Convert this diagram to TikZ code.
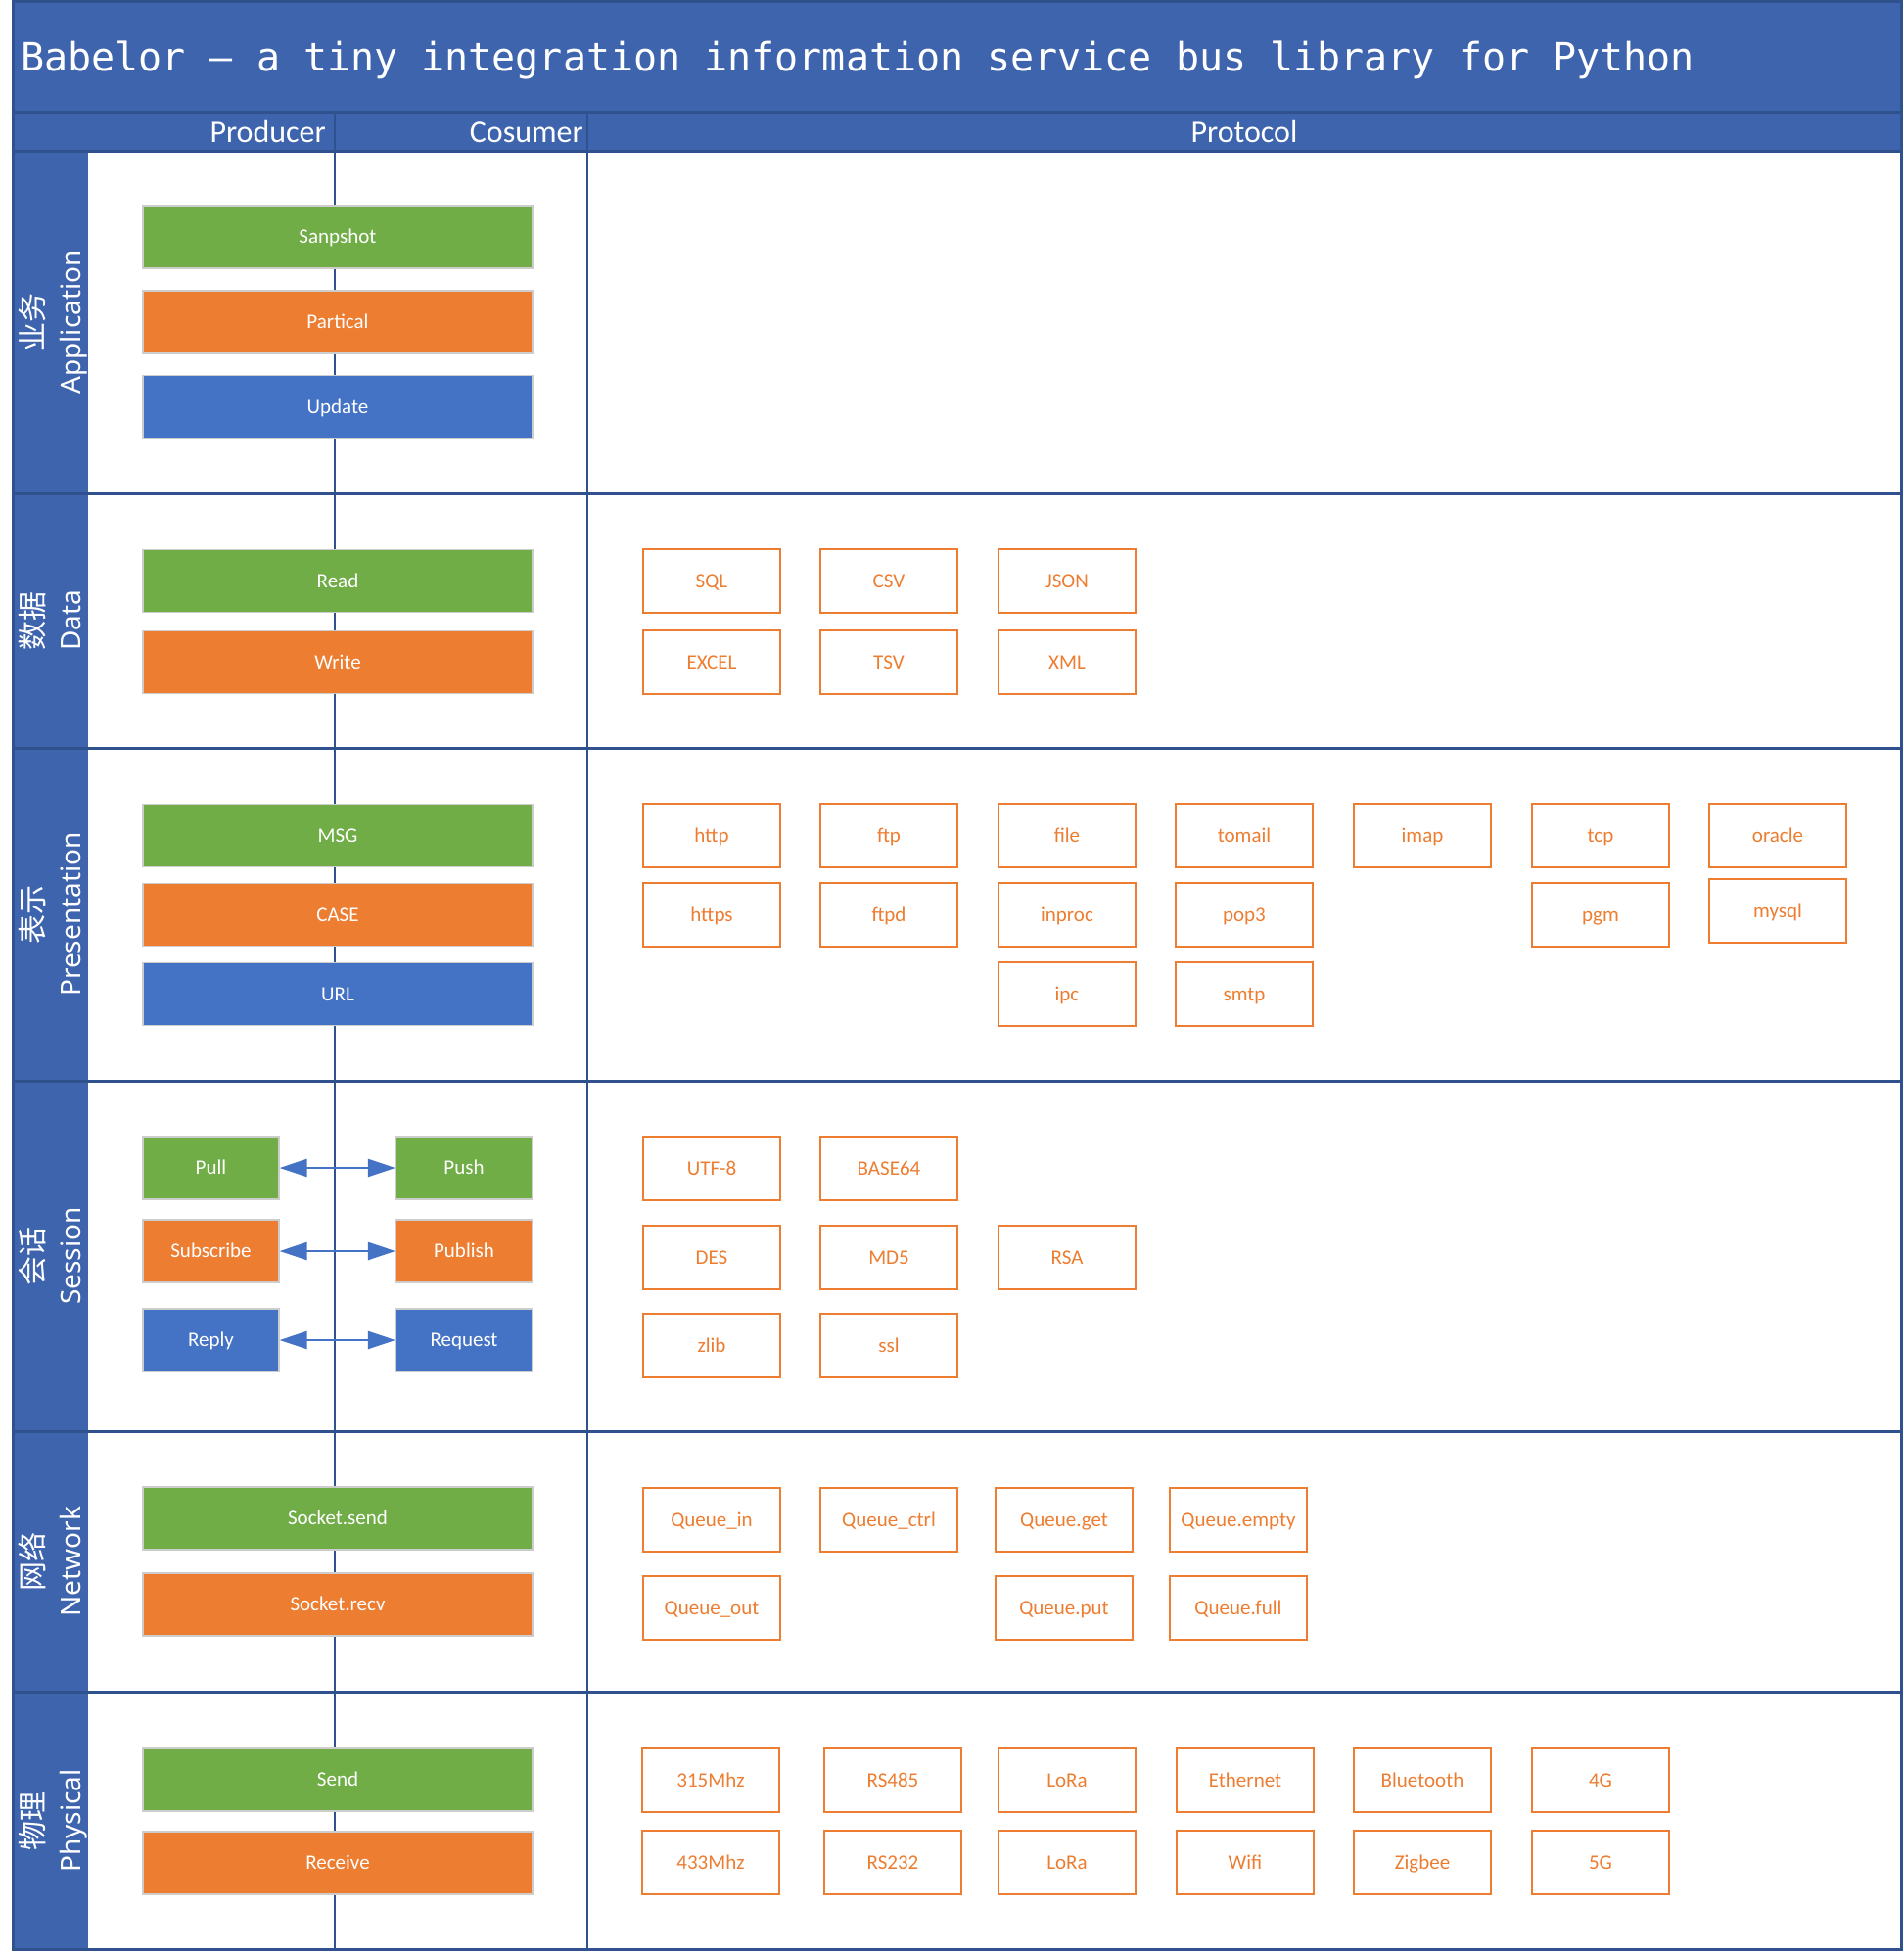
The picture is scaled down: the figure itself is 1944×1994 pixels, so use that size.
\documentclass[tikz,border=0pt]{standalone}
\usepackage{fontspec}
\setmainfont{Carlito}
\newfontfamily\titlefont{DejaVu Sans Mono}
\newfontfamily\cjkfont{Noto Sans CJK SC}
\newfontfamily\lblfont{Noto Sans}
\usetikzlibrary{arrows.meta}
\definecolor{bandblue}{RGB}{62,100,173}
\definecolor{linedark}{RGB}{47,82,143}
\definecolor{pgreen}{RGB}{112,173,71}
\definecolor{porange}{RGB}{237,125,49}
\definecolor{pblue}{RGB}{68,114,196}
\definecolor{boxedge}{RGB}{205,205,205}
\newcommand\protobox[4]{\node[pbox] (#1) at ({#2+70},{#3+32.5}) {#4};}
\begin{document}
\begin{tikzpicture}[x=1pt,y=-1pt,
  cbox/.style={draw=boxedge, line width=1.2pt, text=white, font=\fontsize{21}{25}\selectfont,
    minimum height=64pt, inner sep=0pt, text height=17.5pt, text depth=4pt},
  widebox/.style={cbox, minimum width=398pt},
  smallbox/.style={cbox, minimum width=139pt},
  gfill/.style={fill=pgreen}, ofill/.style={fill=porange}, bfill/.style={fill=pblue},
  pbox/.style={draw=porange, line width=2.6pt, fill=white, text=porange, font=\fontsize{21}{25}\selectfont,
    minimum width=140pt, minimum height=65pt, inner sep=0pt, text height=17.5pt, text depth=4pt},
  rowline/.style={draw=linedark, line width=3pt},
  divline/.style={draw=linedark, line width=2pt},
  biarrow/.style={draw=pblue, line width=2.5pt, {Triangle[length=28pt,width=18pt]}-{Triangle[length=28pt,width=18pt]}},
  cnlabel/.style={rotate=90, text=white, inner sep=0pt, font=\cjkfont\fontsize{30}{30}\selectfont, text height=26pt, text depth=4pt},
  enlabel/.style={rotate=90, text=white, inner sep=0pt, font=\lblfont\fontsize{28}{28}\selectfont, text height=20pt, text depth=7pt},
  headtext/.style={text=white, inner sep=0pt, font=\fontsize{32}{32}\selectfont}
]
\useasboundingbox (0,0) rectangle (1944,1994);
\fill[white] (0,0) rectangle (1944,1994);
% bands
\fill[bandblue] (13,1) rectangle (1942,154);
\fill[bandblue] (13,154) rectangle (90,1991);
% dividers
\draw[divline] (342,114) -- (342,1991);
\draw[divline] (600,114) -- (600,1991);
% row lines
\foreach \yy in {114,154,504,764,1104,1462,1728}{
  \draw[rowline] (13,\yy) -- (1942,\yy);
}
% outer frame
\draw[draw=linedark, line width=3pt] (13,1.5) rectangle (1942,1991);

% title and header
\node[anchor=base west, text=white, inner sep=0pt, font=\titlefont\fontsize{40}{40}\selectfont] (title) at (21,72)
  {Babelor – a tiny integration information service bus library for Python};
\node[headtext, anchor=base east] (hprod) at (333,145) {Producer};
\node[headtext, anchor=base east] (hcons) at (596,145) {Cosumer};
\node[headtext, anchor=base] (hprot) at (1271,145) {Protocol};

% lane labels
\node[cnlabel] (l1c) at (33,329) {业务};
\node[enlabel] (l1e) at (76,329) {Application};
\node[cnlabel] (l2c) at (33,634) {数据};
\node[enlabel] (l2e) at (76,634) {Data};
\node[cnlabel] (l3c) at (33,934) {表示};
\node[enlabel] (l3e) at (76,934) {Presentation};
\node[cnlabel] (l4c) at (33,1283) {会话};
\node[enlabel] (l4e) at (76,1283) {Session};
\node[cnlabel] (l5c) at (33,1595) {网络};
\node[enlabel] (l5e) at (76,1595) {Network};
\node[cnlabel] (l6c) at (33,1860) {物理};
\node[enlabel] (l6e) at (76,1860) {Physical};

% Application
\node[widebox, gfill] (snap) at (345,242) {Sanpshot};
\node[widebox, ofill] (part) at (345,329) {Partical};
\node[widebox, bfill] (upd) at (345,415.5) {Update};

% Data
\node[widebox, gfill] (read) at (345,593.5) {Read};
\node[widebox, ofill] (write) at (345,676.5) {Write};
\protobox{sql}{657}{561}{SQL}
\protobox{csv}{838}{561}{CSV}
\protobox{json}{1020}{561}{JSON}
\protobox{excel}{657}{644}{EXCEL}
\protobox{tsv}{838}{644}{TSV}
\protobox{xml}{1020}{644}{XML}

% Presentation
\node[widebox, gfill] (msg) at (345,853.5) {MSG};
\node[widebox, ofill] (case) at (345,934.5) {CASE};
\node[widebox, bfill] (url) at (345,1015.5) {URL};
\protobox{http}{657}{821}{http}
\protobox{ftp}{838}{821}{ftp}
\protobox{file}{1020}{821}{file}
\protobox{tomail}{1201}{821}{tomail}
\protobox{imap}{1383}{821}{imap}
\protobox{tcp}{1565}{821}{tcp}
\protobox{oracle}{1746}{821}{oracle}
\protobox{https}{657}{902}{https}
\protobox{ftpd}{838}{902}{ftpd}
\protobox{inproc}{1020}{902}{inproc}
\protobox{pop3}{1201}{902}{pop3}
\protobox{pgm}{1565}{902}{pgm}
\protobox{mysql}{1746}{898}{mysql}
\protobox{ipc}{1020}{983}{ipc}
\protobox{smtp}{1201}{983}{smtp}

% Session
\node[smallbox, gfill] (pull) at (215.5,1193) {Pull};
\node[smallbox, gfill] (push) at (474,1193) {Push};
\node[smallbox, ofill] (subs) at (215.5,1278) {Subscribe};
\node[smallbox, ofill] (publ) at (474,1278) {Publish};
\node[smallbox, bfill] (reply) at (215.5,1369) {Reply};
\node[smallbox, bfill] (req) at (474,1369) {Request};
\draw[biarrow] (pull) -- (push);
\draw[biarrow] (subs) -- (publ);
\draw[biarrow] (reply) -- (req);
\protobox{utf}{657}{1161}{UTF-8}
\protobox{base}{838}{1161}{BASE64}
\protobox{des}{657}{1252}{DES}
\protobox{md}{838}{1252}{MD5}
\protobox{rsa}{1020}{1252}{RSA}
\protobox{zlib}{657}{1342}{zlib}
\protobox{ssl}{838}{1342}{ssl}

% Network
\node[widebox, gfill] (ssend) at (345,1551) {Socket.send};
\node[widebox, ofill] (srecv) at (345,1639) {Socket.recv};
\protobox{qin}{657}{1520}{Queue\_in}
\protobox{qctrl}{838}{1520}{Queue\_ctrl}
\protobox{qget}{1017}{1520}{Queue.get}
\protobox{qempty}{1195}{1520}{Queue.empty}
\protobox{qout}{657}{1610}{Queue\_out}
\protobox{qput}{1017}{1610}{Queue.put}
\protobox{qfull}{1195}{1610}{Queue.full}

% Physical
\node[widebox, gfill] (send) at (345,1818) {Send};
\node[widebox, ofill] (recv) at (345,1903) {Receive};
\protobox{m315}{656}{1786}{315Mhz}
\protobox{rs485}{842}{1786}{RS485}
\protobox{lora1}{1020}{1786}{LoRa}
\protobox{eth}{1202}{1786}{Ethernet}
\protobox{bt}{1383}{1786}{Bluetooth}
\protobox{g4}{1565}{1786}{4G}
\protobox{m433}{656}{1870}{433Mhz}
\protobox{rs232}{842}{1870}{RS232}
\protobox{lora2}{1020}{1870}{LoRa}
\protobox{wifi}{1202}{1870}{Wifi}
\protobox{zig}{1383}{1870}{Zigbee}
\protobox{g5}{1565}{1870}{5G}
\end{tikzpicture}
\end{document}
